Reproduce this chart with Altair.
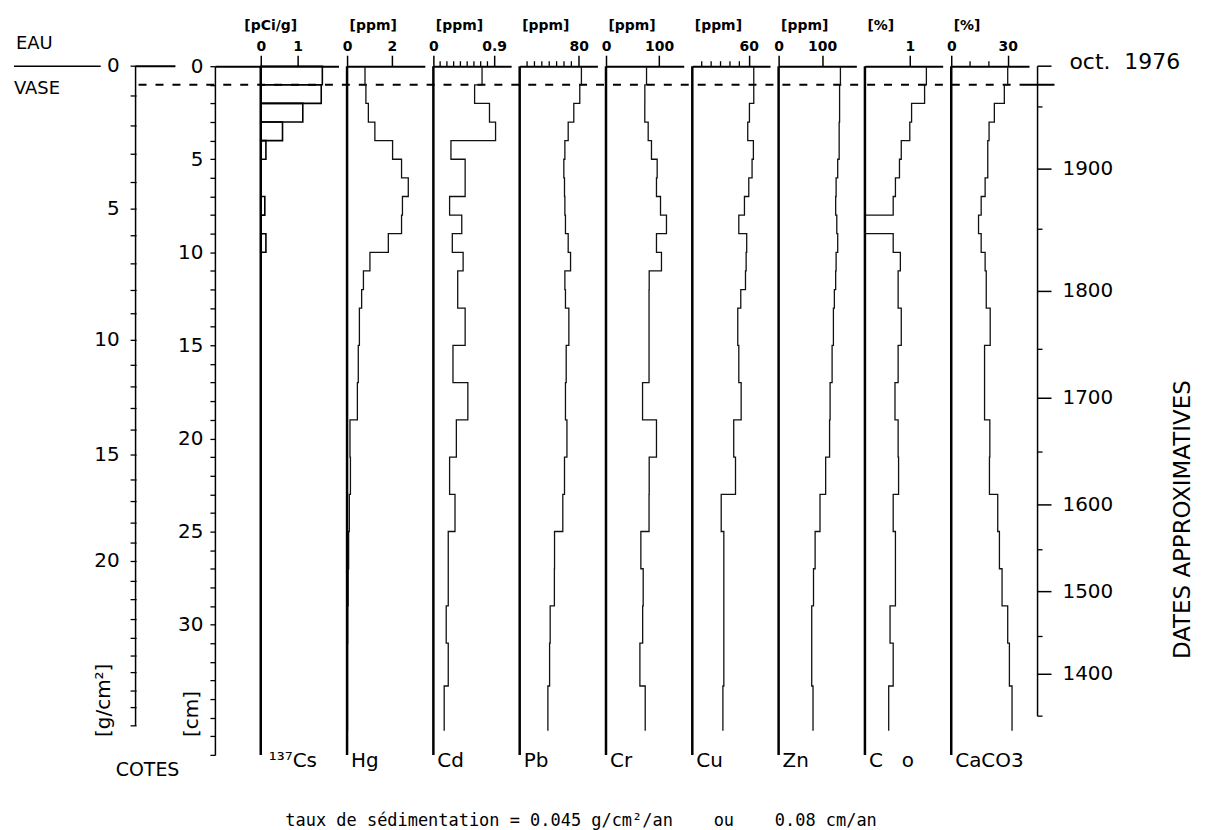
import altair as alt
import pandas as pd

# ---------------- data ----------------
# depth boundaries of the core slices [cm]
BOUNDS = [0, 1, 2, 3, 4, 5, 6, 7, 8, 9, 10, 11, 12, 13, 15, 17, 19, 21, 23,
          25, 27, 29, 31, 33.3, 35.7]

CS137 = [1.67, 1.64, 1.14, 0.59, 0.14, 0, 0, 0.11, 0, 0.14,
         0, 0, 0, 0, 0, 0, 0, 0, 0, 0, 0, 0, 0, 0]
HG = [0.8, 0.84, 0.95, 1.24, 2.03, 2.43, 2.73, 2.47, 2.43, 1.84, 1.02, 0.73,
      0.65, 0.55, 0.5, 0.46, 0.13, 0.15, 0.1, 0.07, 0.05, 0.03, 0.02, 0.02]
CD = [0.72, 0.61, 0.83, 0.92, 0.26, 0.47, 0.47, 0.24, 0.42, 0.28, 0.44, 0.36,
      0.36, 0.47, 0.29, 0.51, 0.34, 0.24, 0.32, 0.22, 0.22, 0.19, 0.22, 0.16]
PB = [83.6, 81.4, 73.3, 65.7, 61.2, 59.8, 60.7, 61.2, 62, 65.7, 68.9, 61.2,
      62, 66.6, 63, 62, 64, 60.7, 58.4, 47.2, 47, 41.3, 40.5, 38.2]
CR = [76.3, 73.1, 73, 79.4, 85.6, 96.3, 95, 102.6, 113.8, 95, 104.4, 81.3,
      81, 81, 81, 68.8, 95, 81.3, 81, 65.6, 70, 69, 63.8, 73.8]
CU = [65.3, 65.3, 60.7, 58.9, 64.9, 63.5, 60, 55.4, 49.4, 57.8, 57.2, 56.5,
      51.5, 48.3, 49.4, 51.9, 44, 45.9, 30.7, 33.5, 33.5, 33.5, 33.5, 32.5]
ZN = [141.9, 140, 140, 139, 139, 135.7, 132, 131, 133.6, 135.7, 132, 131,
      128, 125.8, 122.8, 118.2, 117, 108, 95, 83.8, 80.1, 76, 76, 79]
CORG = [1.37, 1.33, 1.04, 1.0, 0.81, 0.77, 0.68, 0.63, 0.0, 0.63, 0.79, 0.74,
        0.74, 0.81, 0.74, 0.67, 0.74, 0.75, 0.63, 0.68, 0.68, 0.56, 0.63, 0.53]
CACO3 = [30, 28.2, 22.9, 20.1, 19.4, 19.4, 18, 15.9, 14.5, 15.9, 18, 18.6,
         18.6, 20.7, 17.7, 17.7, 20.5, 20.3, 24.7, 25.6, 27, 30, 30.9, 32.3]

# mass-depth scale [g/cm2] and the depth [cm] where each of its ticks sits
GCM_VALUES = list(range(30))
GCM_DEPTHS = [0, 1.6, 3.21, 4.73, 6.25, 7.68, 9.11, 10.62, 12.05, 13.3, 14.73,
              16.07, 17.23, 18.39, 19.55, 20.89, 22.23, 23.39, 24.55, 25.62,
              26.61, 27.68, 28.66, 29.73, 30.74, 31.69, 32.58, 33.57, 34.46,
              35.44]
GCM_LABELLED = [0, 5, 10, 15, 20]

# approximate dates and their depth [cm]
DATE_YEARS = [1976, 1950, 1900, 1850, 1800, 1750, 1700, 1650, 1600, 1550,
              1500, 1450, 1400, 1350]
DATE_DEPTHS = [0, 2.19, 5.53, 8.76, 12.10, 15.21, 17.84, 20.73, 23.57, 25.98,
               28.23, 30.64, 32.67, 34.92]
DATE_LABELLED = [1900, 1800, 1700, 1600, 1500, 1400]

INTERFACE_DEPTH = 1.0  # dashed line

NB = "\u00a0"
PANEL_NAMES = ["¹³⁷Cs", "Hg", "Cd", "Pb", "Cr", "Cu", "Zn", "C" + NB * 3 + "o", "CaCO3"]
PANEL_UNITS = ["[pCi/g]", "[ppm]", "[ppm]", "[ppm]", "[ppm]", "[ppm]", "[ppm]", "[%]", "[%]"]
PANEL_XMAX = [2.108, 3.467, 1.15, 105.3, 146.3, 82.6, 178.5, 1.733, 41.3]
PANEL_MAJOR = [[0, 1], [0, 2], [0, 0.9], [80], [0, 100], [60], [0, 100], [1], [0, 30]]
PANEL_MINOR = [[], [], [0.1, 0.2, 0.3, 0.4, 0.5, 0.6, 0.7, 0.8],
               [10, 20, 30, 40, 50, 60, 70], [], [10, 20, 30, 40, 50], [], [], [10, 20]]
PANEL_VALUES = [CS137, HG, CD, PB, CR, CU, ZN, CORG, CACO3]

SANS = "DejaVu Sans"
MONO = "DejaVu Sans Mono"

# ---------------- layout ----------------
H = 691
PW = 78
SP = 8.6
WL = 192.4
WR = 160
CS_LEFT = 46  # px of Cs panel left of its zero line

YS = alt.Scale(domain=[0, 37], reverse=True, nice=False, zero=False)
ONE = pd.DataFrame({"a": [0]})


def step_frame(vals):
    rows = []
    for i, v in enumerate(vals):
        rows.append({"v": v, "d": BOUNDS[i], "o": 2 * i})
        rows.append({"v": v, "d": BOUNDS[i + 1], "o": 2 * i + 1})
    return pd.DataFrame(rows)


def top_axis(unit, major, title_x):
    return alt.Axis(orient="top", values=major, format="~r", title=unit,
                    titleX=title_x, titleY=-41, titleAlign="left",
                    titleBaseline="middle", titleFont=SANS, titleFontSize=14,
                    titleFontWeight="bold", titleColor="black",
                    labelFont=SANS, labelFontSize=14, labelFontWeight="bold",
                    labelColor="black", labelPadding=2, labelFlush=False,
                    labelOverlap=False, tickSize=11, tickWidth=1.5,
                    tickColor="black", domainWidth=2, domainColor="black",
                    grid=False)


cm_axis = alt.Axis(orient="left", values=list(range(38)), format="d",
                   labelExpr="(datum.value % 5 == 0 && datum.value <= 30) ? datum.label : ''",
                   tickSize=5, tickWidth=1.3, tickColor="black", domainWidth=1.5,
                   domainColor="black", labelPadding=7, labelFont=SANS,
                   labelFontSize=20, labelColor="black", labelFlush=False,
                   labelOverlap=False, labelBaseline="middle", title=None, grid=False)


def panel(idx):
    vals = PANEL_VALUES[idx]
    is_cs = idx == 0
    xmax = PANEL_XMAX[idx]
    if is_cs:
        px_per_unit = PW / xmax
        xmin = -CS_LEFT / px_per_unit
        width = PW + CS_LEFT
        title_x = 29
        name_dx = 8
    else:
        xmin = 0
        width = PW
        title_x = 2
        name_dx = 4
    xs = alt.Scale(domain=[xmin, xmax], nice=False, zero=False)
    xax = top_axis(PANEL_UNITS[idx], PANEL_MAJOR[idx], title_x)
    if is_cs:
        df = pd.DataFrame({"x0": [0] * len(vals), "v": vals,
                           "top": BOUNDS[:-1], "bot": BOUNDS[1:]})
        df = df[df.v > 0]
        main = alt.Chart(df).mark_rect(fill="white", fillOpacity=0, stroke="black",
                                       strokeWidth=1.6).encode(
            x=alt.X("x0:Q", scale=xs, axis=xax), x2="v",
            y=alt.Y("top:Q", scale=YS, axis=cm_axis), y2="bot")
    else:
        main = alt.Chart(step_frame(vals)).mark_line(color="#111", strokeWidth=1.3).encode(
            x=alt.X("v:Q", scale=xs, axis=xax),
            y=alt.Y("d:Q", scale=YS, axis=None),
            order="o:Q")
    zero = alt.Chart(pd.DataFrame({"x": [0], "d0": [0], "d1": [37]})).mark_rule(
        color="black", strokeWidth=2.5).encode(
        x=alt.X("x:Q", scale=xs, axis=None),
        y=alt.Y("d0:Q", scale=YS, axis=None), y2="d1")
    layers = [main, zero]
    if PANEL_MINOR[idx]:
        layers.append(alt.Chart(pd.DataFrame({"m": PANEL_MINOR[idx]})).mark_rule(
            color="black", strokeWidth=1.3).encode(
            x=alt.X("m:Q", scale=xs, axis=None), y=alt.value(0), y2=alt.value(-5)))
    layers.append(alt.Chart(pd.DataFrame({"x": [0], "t": [PANEL_NAMES[idx]]})).mark_text(
        align="left", baseline="middle", dx=name_dx, font=SANS, fontSize=20,
        color="black").encode(
        x=alt.X("x:Q", scale=xs, axis=None), y=alt.value(697), text="t:N"))
    return alt.layer(*layers).resolve_axis(x="independent", y="independent").properties(
        width=width, height=H)


def text_layer(txt, x, y, size=20, align="left", angle=0, font=SANS):
    return alt.Chart(ONE).mark_text(text=txt, align=align, baseline="middle",
                                    angle=angle, font=font, fontSize=size,
                                    color="black").encode(
        x=alt.value(x), y=alt.value(y))


def left_panel():
    gdf = pd.DataFrame({"g": GCM_VALUES, "d": GCM_DEPTHS})
    gdf["lab"] = gdf["g"].astype(str)
    glab = gdf[gdf["g"].isin(GCM_LABELLED)]
    ends = pd.DataFrame({"d0": [0], "d1": [GCM_DEPTHS[-1]], "di": [INTERFACE_DEPTH]})
    axis_line = alt.Chart(ends).mark_rule(color="black", strokeWidth=1.5).encode(
        x=alt.value(122), y=alt.Y("d0:Q", scale=YS, axis=None), y2="d1")
    ticks = alt.Chart(gdf).mark_rule(color="black", strokeWidth=1.3).encode(
        x=alt.value(117), x2=alt.value(123), y=alt.Y("d:Q", scale=YS, axis=None))
    labels = alt.Chart(glab).mark_text(align="right", baseline="middle", font=SANS,
                                       fontSize=20, color="black").encode(
        x=alt.value(106), y=alt.Y("d:Q", scale=YS, axis=None), text="lab:N")
    top_short = alt.Chart(ends).mark_rule(color="black", strokeWidth=2).encode(
        x=alt.value(122), x2=alt.value(162), y=alt.Y("d0:Q", scale=YS, axis=None))
    eau_line = alt.Chart(ends).mark_rule(color="black", strokeWidth=1.6).encode(
        x=alt.value(0), x2=alt.value(87), y=alt.Y("d0:Q", scale=YS, axis=None))
    dashed = alt.Chart(ends).mark_rule(color="black", strokeWidth=2,
                                       strokeDash=[8, 9]).encode(
        x=alt.value(125), x2=alt.value(1007), y=alt.Y("di:Q", scale=YS, axis=None))
    bottom_txt = ("taux de sédimentation = 0.045 g/cm²/an" + NB * 4 + "ou" + NB * 4
                  + "0.08 cm/an")
    layers = [axis_line, ticks, labels, top_short, eau_line, dashed,
              text_layer("EAU", 2, -22, 18),
              text_layer("VASE", 0, 23, 18),
              text_layer("COTES", 134, 706, 19, align="center"),
              text_layer("[g/cm²]", 90, 673, 20, angle=270),
              text_layer("[cm]", 179, 673, 20, angle=270),
              text_layer(bottom_txt, 569, 757, 17, align="center", font=MONO)]
    return alt.layer(*layers).properties(width=WL, height=H)


def right_panel():
    dd = pd.DataFrame({"yr": DATE_YEARS, "d": DATE_DEPTHS})
    dd["lab"] = dd["yr"].astype(str)
    major = dd[(dd["yr"] % 100 == 0) | (dd["yr"] == DATE_YEARS[0])]
    minor = dd[~dd.index.isin(major.index)]
    labs = dd[dd["yr"].isin(DATE_LABELLED)]
    ends = pd.DataFrame({"d0": [0], "d1": [DATE_DEPTHS[-1]], "di": [INTERFACE_DEPTH]})
    line = alt.Chart(ends).mark_rule(color="black", strokeWidth=1.5).encode(
        x=alt.value(0), y=alt.Y("d0:Q", scale=YS, axis=None), y2="d1")
    cross = alt.Chart(ends).mark_rule(color="black", strokeWidth=2).encode(
        x=alt.value(-18), x2=alt.value(17), y=alt.Y("di:Q", scale=YS, axis=None))
    t_major = alt.Chart(major).mark_rule(color="black", strokeWidth=1.5).encode(
        x=alt.value(0), x2=alt.value(14), y=alt.Y("d:Q", scale=YS, axis=None))
    t_minor = alt.Chart(minor).mark_rule(color="black", strokeWidth=1.3).encode(
        x=alt.value(0), x2=alt.value(5), y=alt.Y("d:Q", scale=YS, axis=None))
    labels = alt.Chart(labs).mark_text(align="left", baseline="middle", font=SANS,
                                       fontSize=20, color="black").encode(
        x=alt.value(25), y=alt.Y("d:Q", scale=YS, axis=None), text="lab:N")
    layers = [line, cross, t_major, t_minor, labels,
              text_layer("oct." + NB * 2 + "1976", 32, -4, 22),
              text_layer("DATES APPROXIMATIVES", 146, 455, 23, align="center", angle=270)]
    return alt.layer(*layers).properties(width=WR, height=H)


panels = [left_panel()] + [panel(i) for i in range(len(PANEL_NAMES))] + [right_panel()]

chart = alt.hconcat(*panels, spacing=SP, bounds="flush").properties(
    padding={"left": 5, "top": 9, "right": 5, "bottom": 2},
    background="white",
).configure_view(stroke=None)

chart.save("out.html", embed_options={"renderer": "svg", "actions": False})
